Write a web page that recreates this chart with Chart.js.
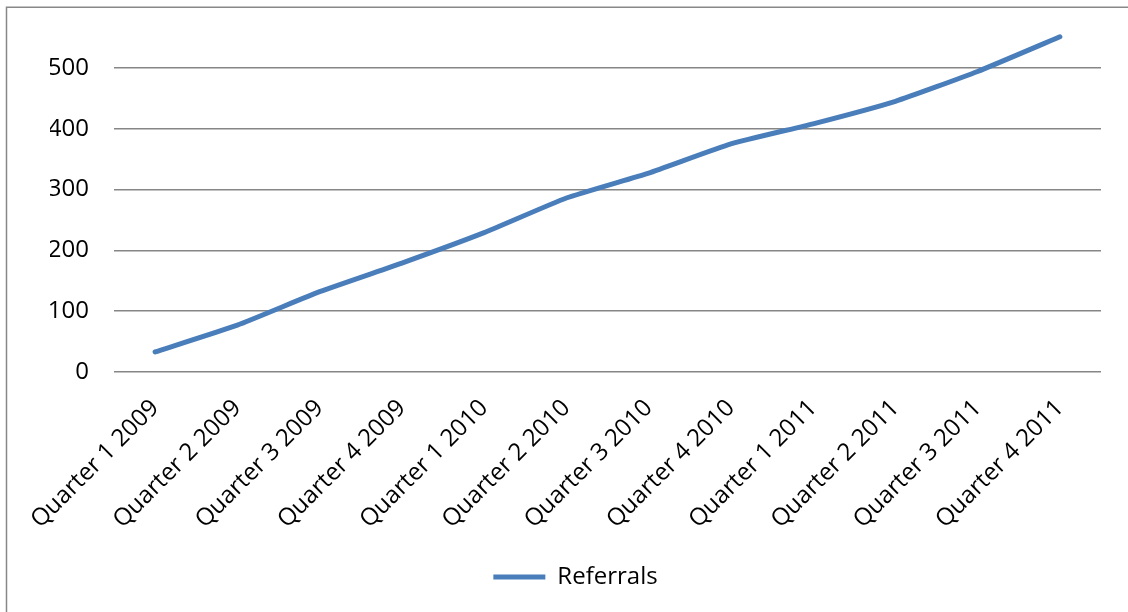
<!DOCTYPE html>
<html>
<head>
<meta charset="utf-8">
<script src="https://cdn.jsdelivr.net/npm/chart.js@4.4.1/dist/chart.umd.min.js"></script>
<style>
  html, body { margin: 0; padding: 0; background: #fff; }
  #wrap { width: 1128px; height: 612px; position: relative; }
</style>
</head>
<body>
<div id="wrap"><canvas id="c" width="1128" height="612"></canvas></div>
<script>
const categories = ["Quarter 1 2009", "Quarter 2 2009", "Quarter 3 2009", "Quarter 4 2009",
  "Quarter 1 2010", "Quarter 2 2010", "Quarter 3 2010", "Quarter 4 2010",
  "Quarter 1 2011", "Quarter 2 2011", "Quarter 3 2011", "Quarter 4 2011"];
const referrals = [33, 77, 132, 179, 229, 286, 327, 375, 408, 445, 494, 551];
const yTicks = [0, 100, 200, 300, 400, 500];
const seriesName = "Referrals";

const FONT = "'Open Sans', 'Noto Sans', sans-serif";
Chart.defaults.font.family = FONT;
Chart.defaults.color = '#000';

function zeroPadding(scale) {
  scale.paddingLeft = 0;
  scale.paddingRight = 0;
  scale.paddingTop = 0;
  scale.paddingBottom = 0;
}

const framePlugin = {
  id: 'frame',
  beforeDraw(chart) {
    const ctx = chart.ctx;
    ctx.save();
    ctx.fillStyle = '#fff';
    ctx.fillRect(0, 0, chart.width, chart.height);
    ctx.restore();
  },
  afterDraw(chart) {
    const ctx = chart.ctx;
    ctx.save();
    ctx.strokeStyle = '#888888';
    ctx.lineWidth = 1.5;
    ctx.beginPath();
    ctx.moveTo(6.5, chart.height + 5);
    ctx.lineTo(6.5, 7.3);
    ctx.lineTo(chart.width + 5, 7.3);
    ctx.stroke();
    ctx.restore();
  }
};

new Chart(document.getElementById('c'), {
  type: 'line',
  data: {
    labels: categories,
    datasets: [{
      label: seriesName,
      data: referrals,
      borderColor: '#4a7ebb',
      backgroundColor: '#4a7ebb',
      borderWidth: 5,
      borderCapStyle: 'round',
      borderJoinStyle: 'round',
      tension: 0.15,
      pointRadius: 0,
      pointHoverRadius: 0,
      fill: false
    }]
  },
  options: {
    responsive: false,
    animation: false,
    events: [],
    layout: { padding: { left: 50, right: 27, top: 7, bottom: 13 } },
    plugins: {
      tooltip: { enabled: false },
      legend: {
        display: true,
        position: 'bottom',
        labels: {
          usePointStyle: true,
          pointStyle: 'line',
          pointStyleWidth: 52,
          boxHeight: 24,
          padding: 10,
          color: '#000',
          font: { size: 24, family: FONT }
        }
      }
    },
    scales: {
      x: {
        offset: true,
        border: { display: false },
        grid: { display: false, drawTicks: false, offset: true },
        ticks: {
          autoSkip: false,
          minRotation: 45,
          maxRotation: 45,
          padding: 22,
          color: '#000',
          font: { size: 24, family: FONT }
        },
        afterFit(scale) { scale.height = 183; zeroPadding(scale); }
      },
      y: {
        min: 0,
        max: 600,
        border: { display: false },
        grid: { color: '#868686', lineWidth: 1.6, drawTicks: false },
        afterBuildTicks(scale) { scale.ticks = yTicks.map(v => ({ value: v })); },
        ticks: {
          padding: 25,
          color: '#000',
          font: { size: 24, family: FONT }
        },
        afterFit(scale) { scale.width = 64; zeroPadding(scale); }
      }
    }
  },
  plugins: [framePlugin]
});
</script>
</body>
</html>
